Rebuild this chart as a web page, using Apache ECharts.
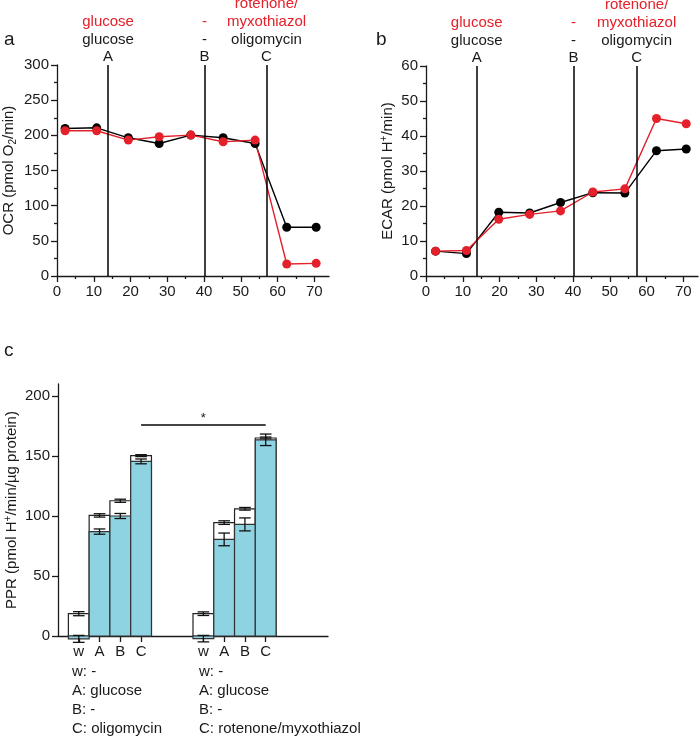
<!DOCTYPE html>
<html><head><meta charset="utf-8">
<script src="https://cdn.jsdelivr.net/npm/echarts@6/dist/echarts.min.js"></script>
<style>html,body{margin:0;padding:0;background:#fff}#c{width:700px;height:738px}</style>
</head><body><div id="c"></div>
<script>
// ---------- data ----------
const timeA = [2.2, 10.8, 19.4, 27.8, 36.4, 45.2, 53.9, 62.5, 70.5];
const ocrOligo = [209.8, 210.7, 196.5, 188.4, 200.3, 196.5, 188.4, 69.3, 69.3];      // black
const ocrRotMyx = [206.5, 206.5, 193.2, 198.0, 200.3, 190.8, 193.2, 17.1, 18.0];     // red
const timeB = [2.6, 11.0, 19.8, 28.2, 36.6, 45.4, 54.1, 62.7, 70.8];
const ecarOligo = [7.1, 6.4, 18.2, 18.0, 21.0, 23.8, 23.7, 35.8, 36.3];              // black
const ecarRotMyx = [7.1, 7.3, 16.2, 17.6, 18.6, 24.0, 24.9, 45.0, 43.5];             // red
const injTimesA = [13.9, 40.1, 57.0];
const injTimesB = [13.8, 40.1, 57.3];
const injLetters = ['A', 'B', 'C'];
const injRed = ['glucose', '-', 'rotenone/\nmyxothiazol'];
const injBlack = ['glucose', '-', 'oligomycin'];
const xMajor = [0, 10, 20, 30, 40, 50, 60, 70];
const xMinor = [5, 15, 25, 35, 45, 55, 65];

const pprPositions = [1, 2, 3, 4, 7, 8, 9, 10];
const pprLabels = ['w', 'A', 'B', 'C', 'w', 'A', 'B', 'C'];
const pprTotal = [18.6, 100.5, 112.7, 150.3, 18.6, 94.5, 106.0, 165.0];      // open bars
const pprTotalErr = [1.7, 1.4, 1.3, 0.8, 1.5, 1.5, 1.1, 0.8];
const pprGlyco = [-2.4, 87.0, 100.0, 145.5, -2.2, 80.5, 93.0, 163.5];         // blue bars
const pprGlycoErr = [2.9, 2.2, 2.1, 2.0, 2.7, 5.3, 5.4, 4.8];
const pprTicks = [0, 50, 100, 150, 200];
const sigPair = [4, 10];
const sigY = 176;
const legend1 = ['w: -', 'A: glucose', 'B: -', 'C: oligomycin'];
const legend2 = ['w: -', 'A: glucose', 'B: -', 'C: rotenone/myxothiazol'];

// ---------- style ----------
const FONT = '"Liberation Sans", Arial, Helvetica, sans-serif';
const INK = '#1a1a1a';
const RED = '#e4202a';
const BLUE = '#8ed3e2';

const chart = echarts.init(document.getElementById('c'), null, {renderer: 'canvas'});

function labelStyle(extra) {
  return Object.assign({color: INK, fontSize: 15, fontFamily: FONT}, extra || {});
}
function axisLine() { return {show: true, onZero: false, lineStyle: {color: INK, width: 1.3}}; }

function injMarkLine(times) {
  return {
    silent: true, symbol: ['none', 'none'], animation: false,
    lineStyle: {color: '#000', width: 1.5, type: 'solid'},
    emphasis: {disabled: true},
    label: {
      show: true, position: 'end', distance: 0,
      rich: {
        r: {color: RED, fontSize: 15, lineHeight: 18, fontFamily: FONT},
        k: {color: INK, fontSize: 15, lineHeight: 18, fontFamily: FONT},
        l: {color: INK, fontSize: 15, lineHeight: 16, fontFamily: FONT}
      }
    },
    data: times.map((t, i) => {
      const txt = injRed[i].split('\n').map(s => '{r|' + s + '}')
        .concat(['{k|' + injBlack[i] + '}', '{l|' + injLetters[i] + '}']).join('\n');
      return {xAxis: t, label: {formatter: () => txt}};
    })
  };
}

function barRenderer(fill, stroke) {
  return function (params, api) {
    const x = api.value(0), v = api.value(1), e = api.value(2);
    const a = api.coord([x - 0.5, 0]);
    const b = api.coord([x + 0.5, v]);
    const top = api.coord([x, v + e]);
    const bot = api.coord([x, v - e]);
    const half = api.size([0.28, 0])[0];
    const ls = {stroke: '#111', lineWidth: 1.3};
    return {
      type: 'group',
      children: [
        {type: 'rect', shape: {x: a[0], y: Math.min(a[1], b[1]), width: b[0] - a[0], height: Math.abs(b[1] - a[1])},
         style: {fill: fill, stroke: stroke, lineWidth: 1.2}},
        {type: 'line', shape: {x1: top[0], y1: top[1], x2: bot[0], y2: bot[1]}, style: ls},
        {type: 'line', shape: {x1: top[0] - half, y1: top[1], x2: top[0] + half, y2: top[1]}, style: ls},
        {type: 'line', shape: {x1: bot[0] - half, y1: bot[1], x2: bot[0] + half, y2: bot[1]}, style: ls}
      ]
    };
  };
}

const option = {
  animation: false,
  textStyle: {fontFamily: FONT},
  grid: [
    {left: 57, top: 65, width: 272, height: 211},
    {left: 426, top: 66, width: 272, height: 210},
    {left: 58, top: 384, width: 270, height: 252}
  ],
  xAxis: [
    {type: 'value', gridIndex: 0, min: 0, max: 74, position: 'bottom', splitLine: {show: false},
     axisLine: axisLine(), axisTick: {customValues: xMajor, length: 6, lineStyle: {color: INK, width: 1.3}},
     axisLabel: labelStyle({customValues: xMajor, margin: 8})},
    {type: 'value', gridIndex: 0, min: 0, max: 74, position: 'bottom', splitLine: {show: false},
     axisLine: {show: false}, axisTick: {customValues: xMinor, length: 3, lineStyle: {color: INK, width: 1.3}},
     axisLabel: {show: false}},
    {type: 'value', gridIndex: 1, min: 0, max: 74, position: 'bottom', splitLine: {show: false},
     axisLine: axisLine(), axisTick: {customValues: xMajor, length: 6, lineStyle: {color: INK, width: 1.3}},
     axisLabel: labelStyle({customValues: xMajor, margin: 8})},
    {type: 'value', gridIndex: 1, min: 0, max: 74, position: 'bottom', splitLine: {show: false},
     axisLine: {show: false}, axisTick: {customValues: xMinor, length: 3, lineStyle: {color: INK, width: 1.3}},
     axisLabel: {show: false}},
    {type: 'value', gridIndex: 2, min: 0, max: 13, position: 'bottom', splitLine: {show: false},
     axisLine: axisLine(), axisTick: {customValues: pprPositions, length: 6, lineStyle: {color: INK, width: 1.3}},
     axisLabel: labelStyle({customValues: pprPositions, margin: 8,
       formatter: v => pprLabels[pprPositions.indexOf(v)]})}
  ],
  yAxis: [
    {type: 'value', gridIndex: 0, min: 0, max: 300, interval: 50, splitLine: {show: false},
     axisLine: axisLine(), axisTick: {show: true, length: 6, lineStyle: {color: INK, width: 1.3}},
     minorTick: {show: true, splitNumber: 2, length: 3, lineStyle: {color: INK, width: 1.3}},
     axisLabel: labelStyle({margin: 8}),
     name: '{n|OCR (pmol O}{s|2}{n|/min)}', nameLocation: 'middle', nameRotate: 90, nameGap: 39,
     nameTextStyle: {rich: {n: {fontSize: 15, color: INK, fontFamily: FONT, lineHeight: 18},
                            s: {fontSize: 10, color: INK, fontFamily: FONT, verticalAlign: 'bottom'}}}},
    {type: 'value', gridIndex: 1, min: 0, max: 60, interval: 10, splitLine: {show: false},
     axisLine: axisLine(), axisTick: {show: true, length: 6, lineStyle: {color: INK, width: 1.3}},
     minorTick: {show: true, splitNumber: 2, length: 3, lineStyle: {color: INK, width: 1.3}},
     axisLabel: labelStyle({margin: 8}),
     name: '{n|ECAR (pmol H}{s|+}{n|/min)}', nameLocation: 'middle', nameRotate: 90, nameGap: 29,
     nameTextStyle: {rich: {n: {fontSize: 15, color: INK, fontFamily: FONT, lineHeight: 18},
                            s: {fontSize: 10, color: INK, fontFamily: FONT, verticalAlign: 'top'}}}},
    {type: 'value', gridIndex: 2, min: 0, max: 210, splitLine: {show: false},
     axisLine: axisLine(), axisTick: {show: true, customValues: pprTicks, length: 6, lineStyle: {color: INK, width: 1.3}},
     axisLabel: labelStyle({customValues: pprTicks, margin: 8}),
     name: '{n|PPR (pmol H}{s|+}{n|/min/µg protein)}', nameLocation: 'middle', nameRotate: 90, nameGap: 37,
     nameTextStyle: {rich: {n: {fontSize: 15, color: INK, fontFamily: FONT, lineHeight: 18},
                            s: {fontSize: 10, color: INK, fontFamily: FONT, verticalAlign: 'top'}}}}
  ],
  series: [
    {type: 'line', xAxisIndex: 0, yAxisIndex: 0, data: timeA.map((t, i) => [t, ocrOligo[i]]),
     symbol: 'circle', symbolSize: 9, itemStyle: {color: '#000'}, lineStyle: {color: '#000', width: 1.4},
     markLine: injMarkLine(injTimesA)},
    {type: 'line', xAxisIndex: 0, yAxisIndex: 0, data: timeA.map((t, i) => [t, ocrRotMyx[i]]),
     symbol: 'circle', symbolSize: 9, itemStyle: {color: RED}, lineStyle: {color: RED, width: 1.4}},
    {type: 'line', xAxisIndex: 2, yAxisIndex: 1, data: timeB.map((t, i) => [t, ecarOligo[i]]),
     symbol: 'circle', symbolSize: 9, itemStyle: {color: '#000'}, lineStyle: {color: '#000', width: 1.4},
     markLine: injMarkLine(injTimesB)},
    {type: 'line', xAxisIndex: 2, yAxisIndex: 1, data: timeB.map((t, i) => [t, ecarRotMyx[i]]),
     symbol: 'circle', symbolSize: 9, itemStyle: {color: RED}, lineStyle: {color: RED, width: 1.4}},
    {type: 'custom', xAxisIndex: 4, yAxisIndex: 2, clip: false,
     data: pprPositions.map((p, i) => [p, pprTotal[i], pprTotalErr[i]]),
     renderItem: barRenderer('#ffffff', '#222'),
     markLine: {silent: true, symbol: ['none', 'none'], animation: false,
       lineStyle: {color: '#444', width: 2, type: 'solid'},
       label: {show: true, position: 'middle', distance: 0, formatter: () => '*', color: INK, fontSize: 13, fontFamily: FONT},
       data: [[{coord: [sigPair[0], sigY]}, {coord: [sigPair[1], sigY]}]]}},
    {type: 'custom', xAxisIndex: 4, yAxisIndex: 2, clip: false,
     data: pprPositions.map((p, i) => [p, pprGlyco[i], pprGlycoErr[i]]),
     renderItem: barRenderer(BLUE, '#333')}
  ],
  graphic: [
    {type: 'text', left: 4, top: 30, style: {text: 'a', fill: INK, font: '19px ' + FONT}},
    {type: 'text', left: 376, top: 30, style: {text: 'b', fill: INK, font: '19px ' + FONT}},
    {type: 'text', left: 4, top: 341, style: {text: 'c', fill: INK, font: '19px ' + FONT}},
    {type: 'text', left: 72, top: 662, style: {text: legend1.join('\n'), fill: INK, font: '15px ' + FONT, lineHeight: 19}},
    {type: 'text', left: 199, top: 662, style: {text: legend2.join('\n'), fill: INK, font: '15px ' + FONT, lineHeight: 19}}
  ]
};
chart.setOption(option);
</script></body></html>
